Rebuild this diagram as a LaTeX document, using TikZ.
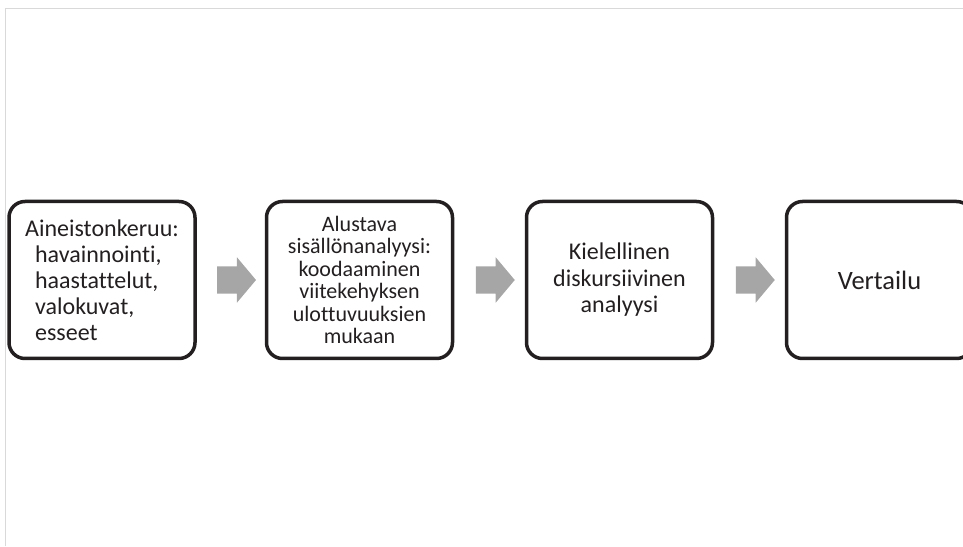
\documentclass[tikz,border=0pt]{standalone}
\usepackage{fontspec}
\setmainfont{Carlito}[Ligatures=NoCommon]
\usetikzlibrary{shapes.arrows,calc}
\definecolor{boxline}{HTML}{231F20}
\definecolor{arrowgray}{HTML}{A6A6A6}
\definecolor{framegray}{HTML}{D9D9D9}

\begin{document}
\begin{tikzpicture}[x=1pt,y=1pt,
  stage/.style={draw=boxline, line width=3.5pt, rounded corners=16pt,
    minimum width=186pt, minimum height=157pt, inner sep=0pt,
    text=boxline, align=center},
  flow/.style={single arrow, fill=arrowgray, draw=none,
    minimum height=39pt, inner xsep=0pt, inner ysep=13.5pt,
    single arrow head extend=9pt, single arrow tip angle=100,
    single arrow head indent=0pt}]
\useasboundingbox (0,0) rectangle (963,546);
\clip (0,0) rectangle (963,546);

\draw[framegray, line width=0.8pt] (5.5,0) -- (5.5,538) -- (963,538);

\node[stage, align=left, font=\fontsize{24}{26}\selectfont] (1) at (102,266)
{Aineistonkeruu:\\
\hspace*{10pt}havainnointi,\\
\hspace*{10pt}haastattelut,\\
\hspace*{10pt}valokuvat,\\
\hspace*{10pt}esseet};

\node[stage, font=\fontsize{22}{22.5}\selectfont] (2) at (359.5,266)
{Alustava\\ sisällönanalyysi:\\ koodaaminen\\ viitekehyksen\\ ulottuvuuksien\\ mukaan};

\node[stage, font=\fontsize{24}{26.5}\selectfont] (3) at (619.5,266)
{Kielellinen\\ diskursiivinen\\ analyysi};

\node[stage, font=\fontsize{26.5}{30}\selectfont] (4) at (879.5,266)
{Vertailu};

\node[flow] (12) at ($(1.east)!0.5!(2.west)$) {};
\node[flow] (23) at ($(2.east)!0.5!(3.west)$) {};
\node[flow] (34) at ($(3.east)!0.5!(4.west)$) {};

\end{tikzpicture}
\end{document}
